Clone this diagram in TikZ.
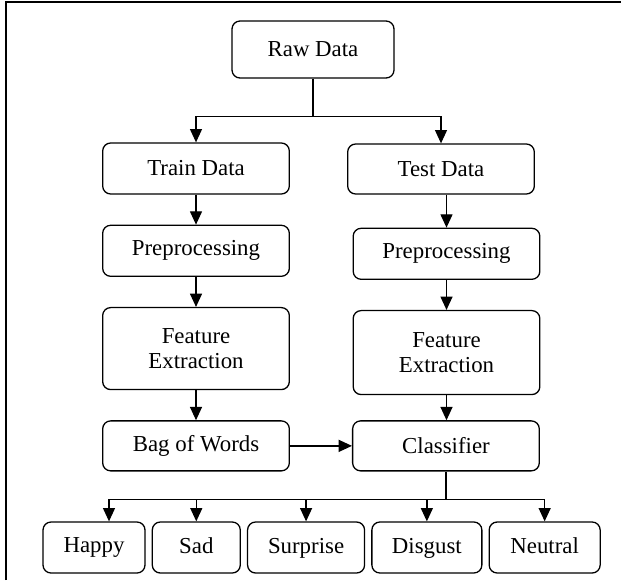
\documentclass[tikz,border=0pt]{standalone}
\usepackage{fontspec}
\setmainfont{Liberation Serif}
\usetikzlibrary{arrows.meta, positioning, calc}

\begin{document}
\begin{tikzpicture}[
    node distance=0.9cm and 0.18cm,
    box/.style={rectangle, draw, rounded corners=0.24cm, line width=1.1pt, minimum width=5.6cm, minimum height=1.53cm, align=center, font={\fontsize{19.5}{22}\selectfont}},
    leaf/.style={box, minimum width=#1, text depth=0.12cm},
    arrow/.style={-{Triangle[length=0.4cm, width=0.36cm]}, line width=1.1pt},
    link/.style={line width=1.1pt}
]

% Frame
\useasboundingbox (0,0) rectangle (18.63,-17.4);
\draw[line width=1.6pt] (0.18,-17.4) -- (0.18,-0.06) -- (18.63,-0.06);

% Nodes
\node[box, minimum width=4.86cm, minimum height=1.71cm] (raw) at (9.39,-1.485) {Raw Data};
\node[box] (train) at (5.88,-5.055) {Train Data};
\node[box, minimum height=1.5cm] (test) at (13.23,-5.07) {Test Data};
\node[box, below=of train] (prepL) {Preprocessing};
\node[box, below=0.99cm of test, xshift=0.165cm] (prepR) {Preprocessing};
\node[box, minimum height=2.46cm, below=of prepL] (featL) {Feature\\Extraction};
\node[box, minimum height=2.52cm, below=of prepR] (featR) {Feature\\Extraction};
\node[box, minimum height=1.5cm, below=of featL] (bag) {Bag of Words};
\node[box, minimum height=1.5cm, right=1.86cm of bag] (classifier) {Classifier};

\node[leaf=3.06cm] (happy) at (2.82,-16.425) {Happy};
\node[leaf=2.64cm, right=of happy] (sad) {Sad};
\node[leaf=3.51cm, right=of sad] (surprise) {Surprise};
\node[leaf=3.3cm, right=of surprise] (disgust) {Disgust};
\node[leaf=3.33cm, right=of disgust] (neutral) {Neutral};

% Arrows
\coordinate (split) at ($(raw.south)+(0,-1.14)$);
\draw[link] (raw) -- (split);
\draw[arrow] (split) -| (train);
\draw[arrow] (split) -| (test);
\draw[arrow] (train) -- (prepL);
\draw[arrow] (test.south -| prepR) -- (prepR);
\draw[arrow] (prepL) -- (featL);
\draw[arrow] (prepR) -- (featR);
\draw[arrow] (featL) -- (bag);
\draw[arrow] (featR) -- (featR |- classifier.north);
\draw[arrow] (bag) -- (classifier);

\coordinate (hub) at ($(classifier.south)+(0,-0.84)$);
\draw[link] (classifier) -- (hub);
\draw[arrow] (hub) -| ($(happy.north)+(0.45,0)$);
\draw[arrow] (hub) -| (sad);
\draw[arrow] (hub) -| (surprise);
\draw[arrow] (hub) -| (disgust);
\draw[arrow] (hub) -| (neutral);

\end{tikzpicture}
\end{document}
